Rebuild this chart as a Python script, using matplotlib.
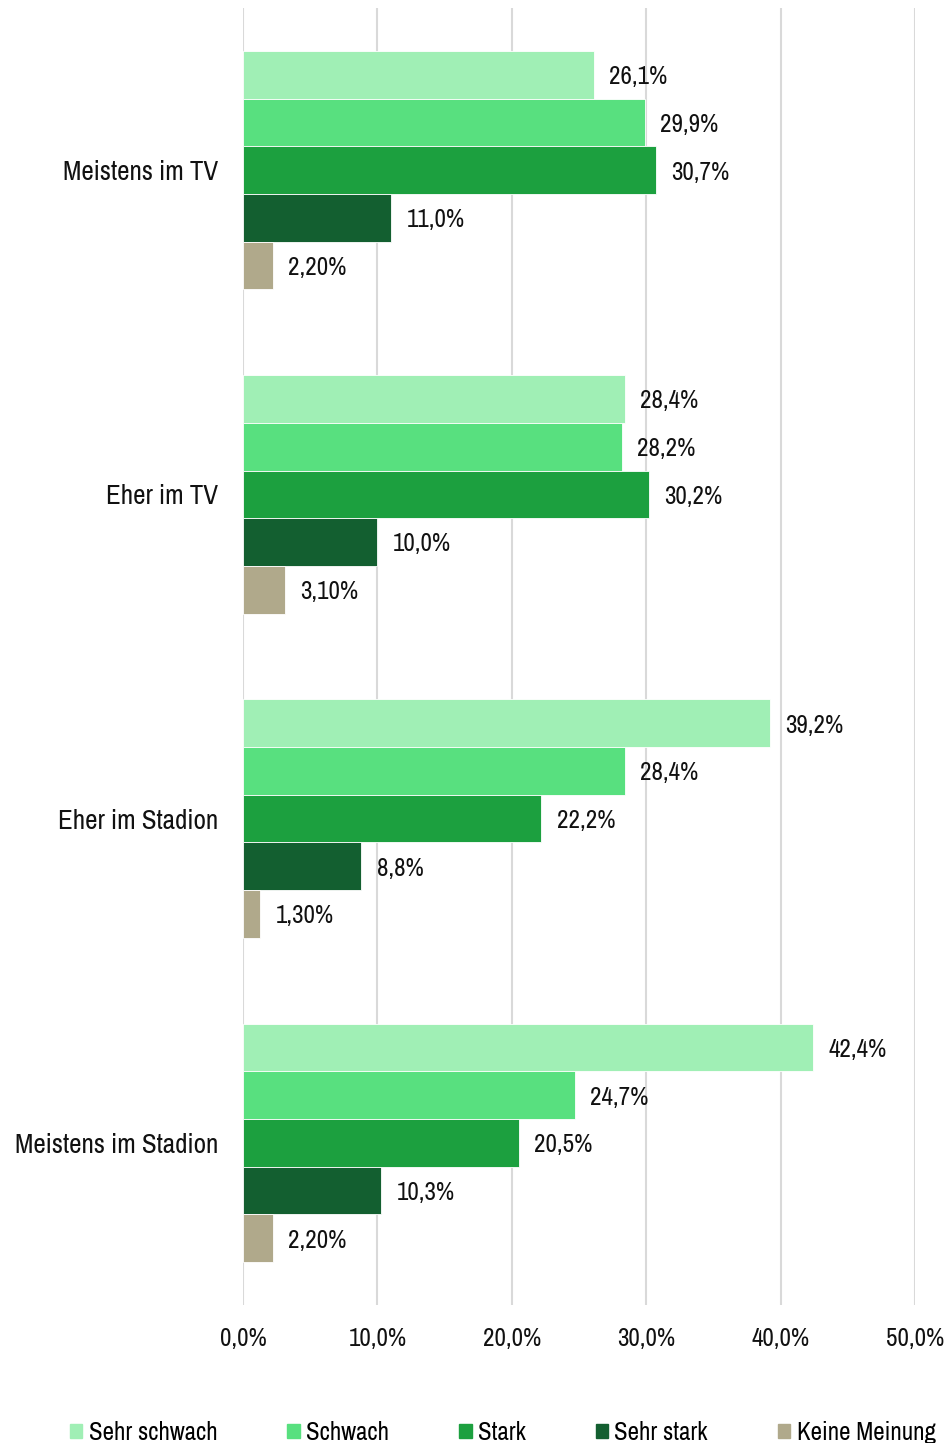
import numpy as np
import matplotlib
matplotlib.use("Agg")
import matplotlib.pyplot as plt
from matplotlib import font_manager
from matplotlib.patches import Patch

# pick a narrow sans if there is one, else Roboto
names = sorted({f.name for f in font_manager.fontManager.ttflist})
narrow = [n for n in names if "Condensed" in n or "Narrow" in n]
fam = narrow[0] if narrow else "Roboto"
plt.rcParams["font.family"] = [fam, "DejaVu Sans"]
plt.rcParams["font.weight"] = "semibold"

categories = ["Meistens im TV", "Eher im TV", "Eher im Stadion", "Meistens im Stadion"]
series = ["Sehr schwach", "Schwach", "Stark", "Sehr stark", "Keine Meinung"]
sehr_schwach = [26.1, 28.4, 39.2, 42.4]
schwach = [29.9, 28.2, 28.4, 24.7]
stark = [30.7, 30.2, 22.2, 20.5]
sehr_stark = [11.0, 10.0, 8.8, 10.3]
keine_meinung = [2.2, 3.1, 1.3, 2.2]
labels = [
    ["26,1%", "28,4%", "39,2%", "42,4%"],
    ["29,9%", "28,2%", "28,4%", "24,7%"],
    ["30,7%", "30,2%", "22,2%", "20,5%"],
    ["11,0%", "10,0%", "8,8%", "10,3%"],
    ["2,20%", "3,10%", "1,30%", "2,20%"],
]
xticks = [0, 10, 20, 30, 40, 50]
xticklabels = ["0,0%", "10,0%", "20,0%", "30,0%", "40,0%", "50,0%"]
colors = ["#a0efb5", "#58e07f", "#1ca03f", "#135f30", "#b0a98b"]

values = [sehr_schwach, schwach, stark, sehr_stark, keine_meinung]

fig = plt.figure(figsize=(9.47, 14.43), dpi=100)
ax = fig.add_axes([243 / 947, 1 - 1305 / 1443, (915 - 243) / 947, (1305 - 8) / 1443])

h = 0.147
y = np.arange(len(categories))
for i, (vals, col) in enumerate(zip(values, colors)):
    pos = y - 2 * h + i * h
    bars = ax.barh(pos, vals, height=h, color=col, edgecolor="white", linewidth=0.6, zorder=3)
    for b, lab in zip(bars, labels[i]):
        ax.text(b.get_width() + 1.15, b.get_y() + h / 2 + 0.006, lab, va="center", ha="left",
                fontsize=18, color="#111111")

ax.set_ylim(3.5, -0.5)
ax.set_xlim(0, 50)
ax.set_yticks(y)
ax.set_yticklabels(categories, fontsize=19.5)
ax.set_xticks(xticks)
ax.set_xticklabels(xticklabels, fontsize=18)
ax.tick_params(axis="both", length=0, colors="#111111")
ax.tick_params(axis="x", pad=16)
ax.tick_params(axis="y", pad=18)
ax.grid(axis="x", color="#d9d9d9", linewidth=1.5, zorder=0)
for s in ax.spines.values():
    s.set_visible(False)

handles = [Patch(color=c, label=s) for c, s in zip(colors, series)]
fig.legend(handles=handles, loc="lower center", bbox_to_anchor=(0.531, -0.016), ncol=5,
           frameon=False, fontsize=18, handlelength=0.5, handleheight=0.5,
           handletextpad=0.25, columnspacing=2.8)

fig.savefig("out.png", dpi=100)
